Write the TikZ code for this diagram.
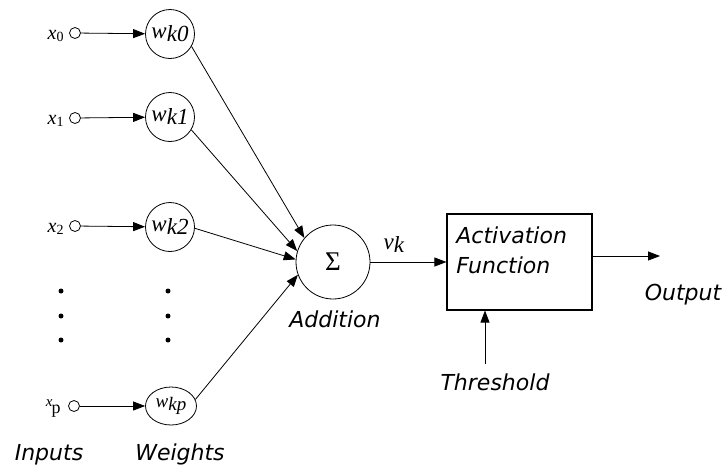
\documentclass[tikz,border=0pt]{standalone}
\usepackage{fontspec}
\setmainfont{Liberation Serif}
\newfontfamily\capfont{DejaVu Sans}
\usetikzlibrary{arrows.meta,shapes.geometric}

\begin{document}
\begin{tikzpicture}[x=1pt,y=-1pt,
  line width=0.8pt,
  inpt/.style={circle, draw, minimum size=11pt, inner sep=0pt},
  wnode/.style={circle, draw, minimum size=49pt, inner sep=0pt,
    font=\fontsize{23}{23}\selectfont\itshape},
  sumnode/.style={circle, draw, minimum size=74pt, inner sep=0pt,
    font=\fontsize{27}{27}\selectfont},
  varlbl/.style={inner sep=0pt, font=\fontsize{20}{20}\selectfont},
  caption/.style={inner sep=0pt, font=\capfont\itshape\fontsize{22}{26}\selectfont},
  arr/.style={-{Triangle[length=12pt,width=9pt]}},
  vdot/.style={circle, fill, minimum size=5pt, inner sep=0pt}
]
\useasboundingbox[fill=white] (0,0) rectangle (728,464);

% input terminals
\node[inpt] (i0) at (75,33) {};
\node[inpt] (i1) at (75,118) {};
\node[inpt] (i2) at (75,226) {};
\node[inpt] (ip) at (74,406) {};

% input labels
\node[varlbl, anchor=base east] (lx0) at (64,39) {\textit{x}\raisebox{-0.25ex}{\fontsize{14}{14}\selectfont 0}};
\node[varlbl, anchor=base east] (lx1) at (64,124) {\textit{x}\raisebox{-0.25ex}{\fontsize{14}{14}\selectfont 1}};
\node[varlbl, anchor=base east] (lx2) at (64,232) {\textit{x}\raisebox{-0.25ex}{\fontsize{14}{14}\selectfont 2}};
\node[varlbl, anchor=base east] (lxp) at (61,412)
  {\raisebox{0.6ex}{\fontsize{15}{15}\selectfont\textit{x}}\kern-0.05em\raisebox{-0.2ex}{\fontsize{18}{18}\selectfont p}};

% weights
\node[wnode] (w0) at (170,34) {w\raisebox{-0.3ex}{k0}};
\node[wnode] (w1) at (170,117) {w\raisebox{-0.3ex}{k1}};
\node[wnode] (w2) at (170,227) {w\raisebox{-0.3ex}{k2}};
\node[wnode, ellipse, minimum width=51pt, minimum height=38pt] (wp) at (171,406)
  {\fontsize{19}{19}\selectfont w\raisebox{-0.3ex}{kp}};

% omitted inputs / weights
\node[vdot] (d1) at (61,291) {};
\node[vdot] (d2) at (61,316) {};
\node[vdot] (d3) at (61,340) {};
\node[vdot] (e1) at (168,291) {};
\node[vdot] (e2) at (168,316) {};
\node[vdot] (e3) at (168,340) {};

% summing junction
\node[sumnode] (s) at (333,262) {Σ};
\node[varlbl, anchor=base, font=\fontsize{23}{23}\selectfont] (vk) at (394,249)
  {\textit{v}\raisebox{-0.3ex}{\textit{k}}};

% activation block
\node[draw, line width=1.1pt, minimum width=145pt, minimum height=96pt, inner sep=0pt] (act) at (519.5,262) {};
\node[caption, anchor=base west] (acttxt1) at (456,243) {Activation};
\node[caption, anchor=base west] (acttxt2) at (456,273) {Function};

% free ends
\coordinate (outend) at (660,256);
\coordinate (thr) at (485,364);

% captions
\node[caption, anchor=base] (cin) at (49,460) {Inputs};
\node[caption, anchor=base] (cw) at (180,460) {Weights};
\node[caption, anchor=base] (cadd) at (335,327) {Addition};
\node[caption, anchor=base] (cout) at (683,300) {Output};
\node[caption, anchor=base] (cthr) at (495,390) {Threshold};

% connectors
\draw[arr] (i0) -- (w0);
\draw[arr] (i1) -- (w1);
\draw[arr] (i2) -- (w2);
\draw[arr] (ip) -- (wp);
\draw[arr] (w0.-30) -- (s.140);
\draw[arr] (w1.-31) -- (s.163);
\draw[arr] (w2.-3) -- (s.176);
\draw[arr] (wp.15) -- (s.200);
\draw[arr] (s) -- (act);
\draw[arr] (outend -| act.east) -- (outend);
\draw[arr] (thr) -- (thr |- act.south);
\end{tikzpicture}
\end{document}
